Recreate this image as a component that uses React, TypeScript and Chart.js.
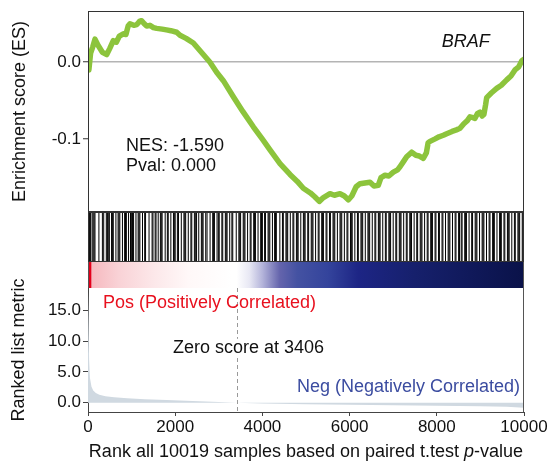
import React, { useEffect, useRef } from "react";
import { Chart, registerables } from "chart.js";
Chart.register(...registerables);

const FONT = "'Liberation Sans', Arial, Helvetica, sans-serif";
const RANK_MAX = 10000;
const rankTicks = [0, 2000, 4000, 6000, 8000, 10000];
const esTicks = [-0.1, 0.0];
const metricTicks = [0, 5, 10, 15];
const zeroCrossRank = 3406;
const geneSetName = "BRAF";
const nesText = "NES: -1.590";
const pvalText = "Pval: 0.000";

const esRanks = [0, 20, 60, 110, 160, 230, 330, 430, 500, 580, 650, 720, 810, 870, 920, 963, 1050, 1120, 1180, 1230, 1290, 1346, 1420, 1500, 1575, 1700, 1800, 1900, 2034, 2110, 2250, 2416, 2600, 2798, 2950, 3104, 3333, 3550, 3792, 4000, 4174, 4404, 4633, 4800, 4938, 5100, 5200, 5305, 5400, 5550, 5650, 5780, 5880, 5970, 6050, 6150, 6239, 6350, 6468, 6560, 6658, 6720, 6812, 6900, 7003, 7100, 7156, 7250, 7309, 7424, 7520, 7600, 7690, 7760, 7800, 7844, 7950, 8050, 8150, 8227, 8350, 8450, 8532, 8620, 8700, 8761, 8830, 8876, 8930, 8991, 9040, 9080, 9120, 9144, 9250, 9373, 9480, 9603, 9700, 9793, 9880, 9950, 10000];
const esValues = [0.0, -0.01, 0.012, 0.02, 0.03, 0.022, 0.013, 0.01, 0.018, 0.028, 0.026, 0.034, 0.037, 0.036, 0.047, 0.05, 0.048, 0.049, 0.053, 0.054, 0.05, 0.047, 0.048, 0.045, 0.044, 0.043, 0.042, 0.041, 0.039, 0.035, 0.031, 0.025, 0.013, 0.0, -0.013, -0.024, -0.045, -0.064, -0.084, -0.1, -0.114, -0.132, -0.146, -0.155, -0.164, -0.17, -0.175, -0.181, -0.176, -0.171, -0.173, -0.171, -0.174, -0.179, -0.174, -0.162, -0.158, -0.157, -0.156, -0.161, -0.16, -0.15, -0.147, -0.148, -0.143, -0.14, -0.136, -0.128, -0.123, -0.117, -0.121, -0.122, -0.125, -0.118, -0.105, -0.103, -0.1, -0.097, -0.095, -0.093, -0.09, -0.088, -0.086, -0.08, -0.076, -0.071, -0.072, -0.073, -0.067, -0.065, -0.07, -0.068, -0.055, -0.046, -0.04, -0.034, -0.03, -0.023, -0.018, -0.01, -0.006, 0.002, 0.004];

const hitRanks = [
  5, 18, 30, 45, 60, 95, 118, 140, 160, 250, 330, 360, 420, 445, 465, 490,
  540, 560, 580, 640, 690, 710, 730, 790, 840, 860, 880, 930, 975, 995,
  1020, 1045, 1100, 1150, 1170, 1190, 1250, 1300, 1320, 1400, 1470, 1490,
  1540, 1560, 1610, 1660, 1680, 1700, 1770, 1820, 1840, 1900, 1960, 1980,
  2000, 2050, 2075, 2140, 2200, 2220, 2240, 2300, 2360, 2380, 2440, 2470, 2490,
  2540, 2600, 2620, 2640, 2700, 2730, 2800, 2860, 2880, 2900, 2960, 2990,
  3010, 3070, 3090, 3150, 3170, 3190, 3250, 3300, 3320, 3400, 3460, 3480,
  3500, 3560, 3580, 3600, 3660, 3720, 3740, 3800, 3820, 3840, 3900, 3960, 3980,
  4000, 4050, 4070, 4130, 4150, 4170, 4230, 4280, 4300, 4320, 4400, 4460, 4480,
  4540, 4560, 4580, 4640, 4700, 4720, 4780, 4800, 4820, 4880, 4940, 4960, 4980,
  5040, 5060, 5120, 5140, 5160, 5220, 5280, 5300, 5360, 5380, 5400, 5460, 5480,
  5540, 5560, 5620, 5640, 5660, 5720, 5780, 5800, 5820, 5880, 5940, 5960,
  6020, 6040, 6060, 6120, 6180, 6200, 6260, 6280, 6300, 6360, 6420, 6440, 6460,
  6520, 6580, 6600, 6660, 6680, 6700, 6760, 6820, 6840, 6900, 6920, 6940,
  7000, 7060, 7080, 7140, 7160, 7180, 7240, 7300, 7320, 7380, 7400, 7420, 7480,
  7540, 7560, 7620, 7640, 7660, 7720, 7780, 7800, 7860, 7880, 7900, 7960, 7980,
  8040, 8060, 8120, 8140, 8200, 8260, 8280, 8300, 8360, 8420, 8440, 8500,
  8520, 8560, 8580, 8640, 8660, 8680, 8740, 8800, 8820, 8880, 8900, 8920, 8980,
  9040, 9060, 9080, 9140, 9200, 9220, 9280, 9300, 9320, 9380, 9440, 9460, 9480,
  9540, 9560, 9620, 9640, 9660, 9720, 9780, 9800, 9860, 9880, 9900, 9960, 9980,
];

const metricRanks = [0, 10, 25, 45, 80, 120, 180, 260, 400, 600, 900, 1300, 1800, 2400, 3000, 3406, 4000, 5000, 6000, 7000, 8000, 9000, 9600, 10000];
const metricValues = [18.0, 14.0, 7.0, 4.0, 2.6, 2.0, 1.6, 1.3, 1.05, 0.88, 0.72, 0.56, 0.43, 0.29, 0.13, 0, -0.12, -0.25, -0.33, -0.4, -0.48, -0.58, -0.66, -0.8];

const gradientRanks = [0, 60, 90, 700, 1500, 2300, 3300, 3406, 3700, 4000, 4400, 4800, 5500, 6200, 7500, 10000];
const gradientColors = ["#e3001b", "#e3001b", "#f6b9bf", "#f9d2d6", "#fce7e9", "#fff8f8", "#ffffff", "#ffffff", "#e8e8f4", "#b4b4da", "#6464ac", "#4452a2", "#34449c", "#1d2585", "#16206c", "#0a1249"];

const AXIS_COLOR = "#333";
const TEXT_COLOR = "#111";

function fixWidth(w: number) {
  return (s: any) => { s.width = w; s.paddingTop = 0; s.paddingBottom = 0; };
}

const boxPlugin = {
  id: "box",
  afterDraw(chart: any) {
    const { ctx, chartArea: a } = chart;
    ctx.save();
    ctx.strokeStyle = AXIS_COLOR;
    ctx.lineWidth = 1;
    ctx.strokeRect(Math.round(a.left) + 0.5, Math.round(a.top) + 0.5, Math.round(a.right - a.left) - 1, Math.round(a.bottom - a.top) - 1);
    ctx.restore();
  },
};

const esTextPlugin = {
  id: "esText",
  afterDraw(chart: any) {
    const { ctx } = chart;
    const x = chart.scales.x, y = chart.scales.y;
    ctx.save();
    ctx.fillStyle = TEXT_COLOR;
    ctx.textBaseline = "middle";
    ctx.textAlign = "left";
    ctx.font = `18px ${FONT}`;
    ctx.fillText(nesText, x.getPixelForValue(872), y.getPixelForValue(-0.1087));
    ctx.fillText(pvalText, x.getPixelForValue(872), y.getPixelForValue(-0.135));
    ctx.font = `italic 18px ${FONT}`;
    ctx.fillText(geneSetName, x.getPixelForValue(8112), y.getPixelForValue(0.0264));
    ctx.restore();
  },
};

const colorBarPlugin = {
  id: "colorBar",
  afterDraw(chart: any) {
    const { ctx, chartArea: a } = chart;
    const x = chart.scales.x;
    const top = a.bottom;
    const h = 26;
    const g = ctx.createLinearGradient(a.left, 0, a.right, 0);
    gradientRanks.forEach((r, i) => {
      const p = (x.getPixelForValue(r) - a.left) / (a.right - a.left);
      g.addColorStop(Math.min(1, Math.max(0, p)), gradientColors[i]);
    });
    ctx.save();
    ctx.fillStyle = g;
    ctx.fillRect(a.left, top, a.right - a.left, h);
    ctx.strokeStyle = "#555";
    ctx.lineWidth = 1;
    ctx.beginPath();
    ctx.moveTo(Math.round(a.left) + 0.5, top);
    ctx.lineTo(Math.round(a.left) + 0.5, top + h + 4);
    ctx.moveTo(Math.round(a.right) - 0.5, top);
    ctx.lineTo(Math.round(a.right) - 0.5, top + h + 4);
    ctx.stroke();
    ctx.restore();
  },
};

const metricTextPlugin = {
  id: "metricText",
  afterDatasetsDraw(chart: any) {
    const { ctx, chartArea: a } = chart;
    const x = chart.scales.x, y = chart.scales.y;
    ctx.save();
    const zx = Math.round(x.getPixelForValue(zeroCrossRank)) + 0.5;
    ctx.strokeStyle = "#999";
    ctx.lineWidth = 1;
    ctx.setLineDash([4, 3]);
    ctx.beginPath();
    ctx.moveTo(zx, a.top);
    ctx.lineTo(zx, a.bottom);
    ctx.stroke();
    ctx.setLineDash([]);
    ctx.strokeStyle = "#555";
    ctx.beginPath();
    ctx.moveTo(Math.round(a.right) - 0.5, a.top);
    ctx.lineTo(Math.round(a.right) - 0.5, a.bottom);
    ctx.stroke();

    ctx.font = `18px ${FONT}`;
    ctx.textBaseline = "middle";
    ctx.textAlign = "left";
    ctx.fillStyle = "#e8101e";
    ctx.fillText("Pos (Positively Correlated)", x.getPixelForValue(344), y.getPixelForValue(16.2));

    const zt = `Zero score at ${zeroCrossRank}`;
    const zxl = x.getPixelForValue(1950);
    const zy = y.getPixelForValue(8.9);
    const w = ctx.measureText(zt).width;
    ctx.fillStyle = "#fff";
    ctx.fillRect(zxl - 1, zy - 9, w + 2, 18);
    ctx.fillStyle = TEXT_COLOR;
    ctx.fillText(zt, zxl, zy);

    ctx.textAlign = "right";
    ctx.fillStyle = "#3b4ca0";
    ctx.fillText("Neg (Negatively Correlated)", x.getPixelForValue(9908), y.getPixelForValue(2.5));

    const t1 = "Rank all 10019 samples based on paired t.test ";
    const t2 = "p";
    const t3 = "-value";
    ctx.textAlign = "left";
    ctx.font = `18px ${FONT}`;
    const w1 = ctx.measureText(t1).width;
    const w3 = ctx.measureText(t3).width;
    ctx.font = `italic 18px ${FONT}`;
    const w2 = ctx.measureText(t2).width;
    const total = w1 + w2 + w3;
    const cx = (a.left + a.right) / 2;
    let sx = cx - total / 2;
    const ty = chart.height - 11;
    ctx.fillStyle = TEXT_COLOR;
    ctx.font = `18px ${FONT}`;
    ctx.fillText(t1, sx, ty);
    sx += w1;
    ctx.font = `italic 18px ${FONT}`;
    ctx.fillText(t2, sx, ty);
    sx += w2;
    ctx.font = `18px ${FONT}`;
    ctx.fillText(t3, sx, ty);
    ctx.restore();
  },
};

const tickFont = { family: FONT, size: 17 };
const titleFont = { family: FONT, size: 18 };

export default function App() {
  const refA = useRef<HTMLCanvasElement>(null);
  const refB = useRef<HTMLCanvasElement>(null);
  const refC = useRef<HTMLCanvasElement>(null);

  useEffect(() => {
    const charts: Chart[] = [];
    charts.push(
      new Chart(refA.current!, {
        type: "scatter",
        data: {
          datasets: [
            {
              data: esRanks.map((r, i) => ({ x: r, y: esValues[i] })),
              showLine: true,
              borderColor: "#8cc43c",
              borderWidth: 5.5,
              pointRadius: 0,
              borderJoinStyle: "round",
              borderCapStyle: "round",
            } as any,
          ],
        },
        options: {
          animation: false,
          responsive: false,
          events: [],
          layout: { padding: { left: 0, top: 11, right: 28, bottom: 4 } },
          plugins: { legend: { display: false }, tooltip: { enabled: false } },
          scales: {
            x: { type: "linear", display: false, min: 0, max: RANK_MAX },
            y: {
              type: "linear",
              min: -0.1948,
              max: 0.0666,
              afterFit: fixWidth(88),
              afterBuildTicks: (s: any) => { s.ticks = esTicks.map((v) => ({ value: v })); },
              ticks: { callback: (v: any) => Number(v).toFixed(1), font: tickFont, color: TEXT_COLOR, padding: 2 },
              grid: {
                color: (c: any) => (c.tick && c.tick.value === 0 ? "#b4b4b4" : "rgba(0,0,0,0)"),
                lineWidth: 1.5,
                tickLength: 5,
                tickColor: AXIS_COLOR,
                tickWidth: 1,
              },
              border: { display: true, color: AXIS_COLOR },
              title: { display: true, text: "Enrichment score (ES)", font: titleFont, color: TEXT_COLOR, padding: { top: 9, bottom: 0 } },
            },
          },
        } as any,
        plugins: [boxPlugin, esTextPlugin],
      })
    );

    charts.push(
      new Chart(refB.current!, {
        type: "bar",
        data: {
          datasets: [
            {
              data: hitRanks.map((r) => ({ x: r, y: 1 })),
              backgroundColor: "#000",
              barThickness: 1,
              inflateAmount: 0,
              borderWidth: 0,
            } as any,
          ],
        },
        options: {
          animation: false,
          responsive: false,
          events: [],
          layout: { padding: { left: 88, top: 4, right: 28, bottom: 30 } },
          plugins: { legend: { display: false }, tooltip: { enabled: false } },
          scales: {
            x: { type: "linear", display: false, min: 0, max: RANK_MAX, offset: false },
            y: { type: "linear", display: false, min: 0, max: 1 },
          },
        } as any,
        plugins: [colorBarPlugin, boxPlugin],
      })
    );

    charts.push(
      new Chart(refC.current!, {
        type: "line",
        data: {
          datasets: [
            {
              data: metricRanks.map((r, i) => ({ x: r, y: metricValues[i] })),
              fill: "origin",
              backgroundColor: "#d0d9e1",
              borderWidth: 0,
              pointRadius: 0,
            } as any,
          ],
        },
        options: {
          animation: false,
          responsive: false,
          events: [],
          layout: { padding: { left: 0, top: 20, right: 28, bottom: 0 } },
          plugins: { legend: { display: false }, tooltip: { enabled: false } },
          scales: {
            x: {
              type: "linear",
              min: 0,
              max: RANK_MAX,
              afterFit: (s: any) => { s.height = 51; s.paddingLeft = 0; s.paddingRight = 0; },
              afterBuildTicks: (s: any) => { s.ticks = rankTicks.map((v) => ({ value: v })); },
              ticks: { font: tickFont, color: TEXT_COLOR, padding: 1, maxRotation: 0, autoSkip: false, callback: (v: any) => String(v) },
              grid: { drawOnChartArea: false, tickLength: 4, tickColor: "#444" },
              border: { display: true, color: "#444" },
            },
            y: {
              type: "linear",
              min: -1.5,
              max: 18.6,
              afterFit: fixWidth(88),
              afterBuildTicks: (s: any) => { s.ticks = metricTicks.map((v) => ({ value: v })); },
              ticks: { callback: (v: any) => Number(v).toFixed(1), font: tickFont, color: TEXT_COLOR, padding: 2 },
              grid: { drawOnChartArea: false, tickLength: 5, tickColor: "#444" },
              border: { display: true, color: "#444" },
              title: { display: true, text: "Ranked list metric", font: titleFont, color: TEXT_COLOR, padding: { top: 8, bottom: 0 } },
            },
          },
        } as any,
        plugins: [metricTextPlugin],
      })
    );

    return () => charts.forEach((c) => c.destroy());
  }, []);

  return (
    <div style={{ position: "absolute", left: 0, top: 0, width: 552, height: 463, background: "#fff" }}>
      <canvas ref={refA} width={552} height={216} style={{ position: "absolute", left: 0, top: 0, width: 552, height: 216 }} />
      <canvas ref={refB} width={552} height={84} style={{ position: "absolute", left: 0, top: 208, width: 552, height: 84 }} />
      <canvas ref={refC} width={552} height={195} style={{ position: "absolute", left: 0, top: 268, width: 552, height: 195 }} />
    </div>
  );
}
